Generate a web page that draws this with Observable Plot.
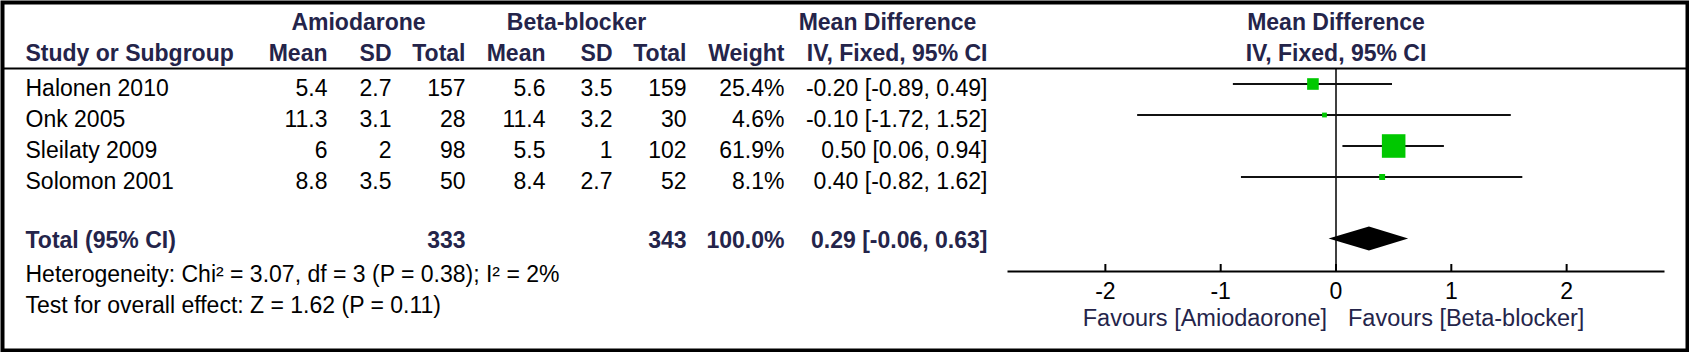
<!DOCTYPE html>
<html>
<head>
<meta charset="utf-8">
<script src="https://cdn.jsdelivr.net/npm/d3@7"></script>
<script src="https://cdn.jsdelivr.net/npm/@observablehq/plot@0.6"></script>
<style>
  html, body { margin: 0; padding: 0; background: #ffffff; }
  #chart svg { display: block; }
</style>
</head>
<body>
<div id="chart"></div>
<script>
// ---------------- data ----------------
const studies   = ["Halonen 2010", "Onk 2005", "Sleilaty 2009", "Solomon 2001"];
const amioMean  = [5.4, 11.3, 6, 8.8];
const amioSD    = [2.7, 3.1, 2, 3.5];
const amioTotal = [157, 28, 98, 50];
const betaMean  = [5.6, 11.4, 5.5, 8.4];
const betaSD    = [3.5, 3.2, 1, 2.7];
const betaTotal = [159, 30, 102, 52];
const weights   = [25.4, 4.6, 61.9, 8.1];
const mdEst     = [-0.20, -0.10, 0.50, 0.40];
const mdLow     = [-0.89, -1.72, 0.06, -0.82];
const mdHigh    = [0.49, 1.52, 0.94, 1.62];

const totalLabel    = "Total (95% CI)";
const totalAmioN    = 333;
const totalBetaN    = 343;
const totalWeight   = 100.0;
const totalEst      = 0.29;
const totalLow      = -0.06;
const totalHigh     = 0.63;

const groupHeaders  = ["Amiodarone", "Beta-blocker", "Mean Difference"];
const columnHeaders = ["Study or Subgroup", "Mean", "SD", "Total", "Mean", "SD", "Total", "Weight", "IV, Fixed, 95% CI"];
const plotHeaders   = ["Mean Difference", "IV, Fixed, 95% CI"];
const footnotes     = ["Heterogeneity: Chi\u00B2 = 3.07, df = 3 (P = 0.38); I\u00B2 = 2%",
                       "Test for overall effect: Z = 1.62 (P = 0.11)"];
const xTicks        = [-2, -1, 0, 1, 2];
const favours       = ["Favours [Amiodaorone]", "Favours [Beta-blocker]"];

// ---------------- layout ----------------
const W = 1689, H = 352;
const mLeft = 1008, mRight = 26, mTop = 68, mBottom = 81;
const frameH = H - mTop - mBottom;
const rowStep = 31, firstInset = 15.5;
const yDomain = [-firstInset / rowStep, (frameH - firstInset) / rowStep];
const xDomain = [-2.84, 2.84];
const totalRow = studies.length + 1;
const diamondHalf = 12 / rowStep;

const fs = 23;
const navy = "#24244a";
const green = "#00c800";
const font = "'Liberation Sans', Arial, sans-serif";

// column right edges (px) / left edge for study names / centres of group headers
const C = {study: 25, aMean: 327, aSD: 391, aTot: 465, bMean: 545, bSD: 612, bTot: 686, wt: 784, md: 987,
           amioHdr: 358, betaHdr: 576, mdHdr: 887};
const dxAt = px => px - mLeft;

const fmtCI = (e, l, h) => `${e.toFixed(2)} [${l.toFixed(2)}, ${h.toFixed(2)}]`;

const rows = studies.map((s, i) => ({
  i, study: s,
  aM: String(amioMean[i]), aS: String(amioSD[i]), aN: String(amioTotal[i]),
  bM: String(betaMean[i]), bS: String(betaSD[i]), bN: String(betaTotal[i]),
  w: weights[i], wTxt: weights[i].toFixed(1) + "%",
  md: mdEst[i], lo: mdLow[i], hi: mdHigh[i],
  ci: fmtCI(mdEst[i], mdLow[i], mdHigh[i])
}));

const totalRowData = [{
  i: totalRow, label: totalLabel, aN: String(totalAmioN), bN: String(totalBetaN),
  wTxt: totalWeight.toFixed(1) + "%", ci: fmtCI(totalEst, totalLow, totalHigh)
}];

const diamond = [
  {y: totalRow - diamondHalf, x1: totalEst, x2: totalEst},
  {y: totalRow, x1: totalLow, x2: totalHigh},
  {y: totalRow + diamondHalf, x1: totalEst, x2: totalEst}
];

// helpers
const cell = (data, field, px, anchor, extra = {}) =>
  Plot.text(data, {y: "i", text: field, frameAnchor: "left", dx: dxAt(px), textAnchor: anchor,
                   lineAnchor: "middle", dy: 5, fontSize: fs, fill: "black", ...extra});
const boldCell = (data, field, px, anchor) =>
  cell(data, field, px, anchor, {fontWeight: "bold", fill: navy, dy: 2});
const header = (label, px, anchor, dy) =>
  Plot.text([label], {text: d => d, frameAnchor: "top-left", lineAnchor: "middle", dx: dxAt(px), dy,
                      textAnchor: anchor, fontSize: fs, fontWeight: "bold", fill: navy});

const hdrY1 = 22 - mTop, hdrY2 = 53 - mTop;
const axisY = H - mBottom;
const colKeys = ["study", "aMean", "aSD", "aTot", "bMean", "bSD", "bTot", "wt", "md"];

const chart = Plot.plot({
  width: W, height: H,
  marginLeft: mLeft, marginRight: mRight, marginTop: mTop, marginBottom: mBottom,
  style: {fontFamily: font, fontSize: fs + "px", background: "white", color: "black"},
  x: {domain: xDomain},
  y: {domain: yDomain, reverse: true, axis: null},
  r: {type: "linear", domain: [0, d3.max(weights)], range: [1.86, 13.3]},
  marks: [
    // outer border and header rule
    Plot.frame({insetLeft: -(mLeft - 2), insetRight: -(mRight - 2), insetTop: -(mTop - 2),
                insetBottom: -(mBottom - 2), stroke: "black", strokeWidth: 4}),
    Plot.frame({anchor: "top", insetLeft: -(mLeft - 4), insetRight: -(mRight - 4), stroke: "black", strokeWidth: 2}),

    // header rows
    header(groupHeaders[0], C.amioHdr, "middle", hdrY1),
    header(groupHeaders[1], C.betaHdr, "middle", hdrY1),
    header(groupHeaders[2], C.mdHdr, "middle", hdrY1),
    ...columnHeaders.map((h, k) => header(h, C[colKeys[k]], k === 0 ? "start" : "end", hdrY2)),
    Plot.text([plotHeaders[0]], {text: d => d, frameAnchor: "top", lineAnchor: "middle", dy: hdrY1, fontSize: fs, fontWeight: "bold", fill: navy}),
    Plot.text([plotHeaders[1]], {text: d => d, frameAnchor: "top", lineAnchor: "middle", dy: hdrY2, fontSize: fs, fontWeight: "bold", fill: navy}),

    // study rows
    cell(rows, "study", C.study, "start"),
    cell(rows, "aM", C.aMean, "end"),
    cell(rows, "aS", C.aSD, "end"),
    cell(rows, "aN", C.aTot, "end"),
    cell(rows, "bM", C.bMean, "end"),
    cell(rows, "bS", C.bSD, "end"),
    cell(rows, "bN", C.bTot, "end"),
    cell(rows, "wTxt", C.wt, "end"),
    cell(rows, "ci", C.md, "end"),

    // total row
    boldCell(totalRowData, "label", C.study, "start"),
    boldCell(totalRowData, "aN", C.aTot, "end"),
    boldCell(totalRowData, "bN", C.bTot, "end"),
    boldCell(totalRowData, "wTxt", C.wt, "end"),
    boldCell(totalRowData, "ci", C.md, "end"),

    // footnotes
    Plot.text([footnotes[0]], {text: d => d, frameAnchor: "bottom-left", lineAnchor: "middle", dx: dxAt(C.study), dy: 274 - axisY, textAnchor: "start", fontSize: fs}),
    Plot.text([footnotes[1]], {text: d => d, frameAnchor: "bottom-left", lineAnchor: "middle", dx: dxAt(C.study), dy: 305 - axisY, textAnchor: "start", fontSize: fs}),

    // forest plot
    Plot.ruleX([0], {stroke: "black", strokeWidth: 1.5}),
    Plot.ruleY(rows, {y: "i", x1: "lo", x2: "hi", stroke: "#111", strokeWidth: 1.8}),
    Plot.dot(rows, {x: "md", y: "i", r: "w", symbol: "square", fill: green}),
    Plot.areaX(diamond, {y: "y", x1: "x1", x2: "x2", fill: "black"}),

    // axis
    Plot.frame({anchor: "bottom", stroke: "black", strokeWidth: 2}),
    Plot.ruleX(xTicks, {insetTop: frameH - 7, stroke: "black", strokeWidth: 2}),
    Plot.axisX({ticks: xTicks, tickSize: 0, tickPadding: 11, tickFormat: d => String(d), fontSize: fs, label: null, fill: "black"}),
    Plot.text([favours[0]], {text: d => d, frameAnchor: "bottom", lineAnchor: "middle", dx: -9, dy: 318 - axisY, textAnchor: "end", fontSize: 23.5, fill: navy}),
    Plot.text([favours[1]], {text: d => d, frameAnchor: "bottom", lineAnchor: "middle", dx: 12, dy: 318 - axisY, textAnchor: "start", fontSize: 23.5, fill: navy})
  ]
});

document.getElementById("chart").appendChild(chart);
</script>
</body>
</html>
